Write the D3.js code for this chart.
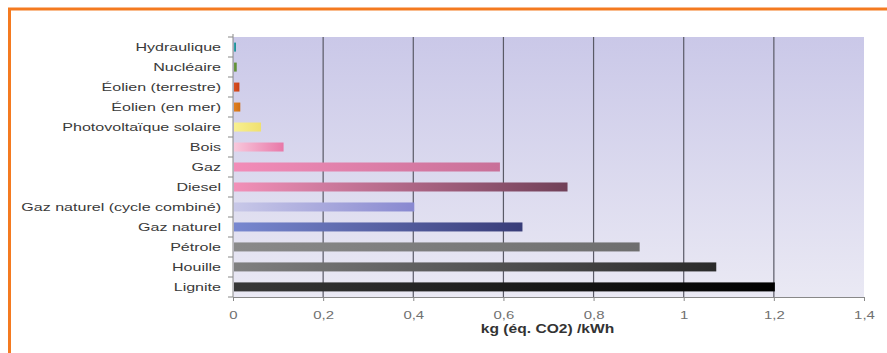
<!DOCTYPE html>
<html><head><meta charset="utf-8">
<script src="https://cdn.jsdelivr.net/npm/d3@7"></script>
<style>
html,body{margin:0;padding:0;background:#fff;}
svg{display:block;font-family:"Liberation Sans",Arial,sans-serif;}
</style></head>
<body><svg id="c" width="887" height="353"></svg>
<script>
const categories = ["Hydraulique","Nucléaire","Éolien (terrestre)","Éolien (en mer)","Photovoltaïque solaire","Bois","Gaz","Diesel","Gaz naturel (cycle combiné)","Gaz naturel ","Pétrole","Houille","Lignite"];
const values = [0.004,0.006,0.012,0.014,0.06,0.11,0.59,0.74,0.40,0.64,0.90,1.07,1.20];
const colorStart = ["#30a8b0","#6a9a40","#d85020","#e08020","#f8f090","#f8c8dc","#f28cb8","#f290b8","#c8c8e8","#7888d0","#8a8a8a","#808080","#383838"];
const colorEnd   = ["#208890","#5a8a30","#c84018","#d07018","#f0e070","#e878a8","#c87098","#704058","#8888d0","#383c78","#6e6e6e","#2a2a2a","#000000"];
const xTicks = [0,0.2,0.4,0.6,0.8,1,1.2,1.4];
const xTickLabels = ["0","0,2","0,4","0,6","0,8","1","1,2","1,4"];
const xTitle = "kg (éq. CO2) /kWh";

const svg = d3.select("#c");
const L = 233, R = 864, T = 37, B = 297;
const x = d3.scaleLinear().domain([0,1.4]).range([L,R]);
const y = d3.scaleBand().domain(categories).range([T,B]).paddingInner(0.55).paddingOuter(0.28);

// frame
svg.append("line").attr("x1",8).attr("x2",887).attr("y1",9).attr("y2",9).attr("stroke","#f47a20").attr("stroke-width",3);
svg.append("line").attr("x1",9.5).attr("x2",9.5).attr("y1",8).attr("y2",353).attr("stroke","#f47a20").attr("stroke-width",3);

const defs = svg.append("defs");
const bg = defs.append("linearGradient").attr("id","bg").attr("x1",0).attr("y1",0).attr("x2",0).attr("y2",1);
bg.append("stop").attr("offset","0%").attr("stop-color","#cac8e8");
bg.append("stop").attr("offset","100%").attr("stop-color","#eae9f4");
svg.append("rect").attr("x",L).attr("y",T).attr("width",R-L).attr("height",B-T).attr("fill","url(#bg)");

// grid
svg.append("g").selectAll("line").data(xTicks.slice(1,-1)).join("line")
  .attr("x1",d=>x(d)).attr("x2",d=>x(d)).attr("y1",T).attr("y2",B)
  .attr("stroke","#5a5a66").attr("stroke-width",1.2);

categories.forEach((c,i)=>{
  const g = defs.append("linearGradient").attr("id","g"+i).attr("x1",0).attr("x2",1).attr("y1",0).attr("y2",0);
  g.append("stop").attr("offset","0%").attr("stop-color",colorStart[i]);
  g.append("stop").attr("offset","100%").attr("stop-color",colorEnd[i]);
});

svg.append("g").selectAll("rect").data(categories).join("rect")
  .attr("x",x(0)+1).attr("y",d=>y(d)+ (y.bandwidth()-9)/2)
  .attr("width",(d,i)=>Math.max(2,x(values[i])-x(0)))
  .attr("height",9)
  .attr("fill",(d,i)=>"url(#g"+i+")");

// x axis
const xa = svg.append("g").attr("transform",`translate(0,${B})`)
  .call(d3.axisBottom(x).tickValues(xTicks).tickFormat((d,i)=>xTickLabels[i]).tickSize(4).tickPadding(10));
xa.select(".domain").attr("stroke","#888");
xa.selectAll(".tick line").attr("stroke","#888");
xa.selectAll("text").attr("fill","#707070").attr("font-size","11.5px").attr("transform","scale(1.3,1)")
  .attr("font-family","Liberation Sans, Arial, sans-serif");

// y axis
const ya = svg.append("g").attr("transform",`translate(${L},0)`);
ya.append("line").attr("x1",0).attr("x2",0).attr("y1",T-3).attr("y2",B).attr("stroke","#888");
ya.selectAll("line.tk").data(d3.range(categories.length+1)).join("line").attr("class","tk")
  .attr("x1",-5).attr("x2",0).attr("y1",d=>T+d*((B-T)/categories.length)).attr("y2",d=>T+d*((B-T)/categories.length)).attr("stroke","#888");
ya.selectAll("text").data(categories).join("text")
  .attr("transform",d=>`translate(-12,${y(d)+y.bandwidth()/2}) scale(1.36,1)`).attr("dy","0.35em")
  .attr("text-anchor","end").attr("font-size","11.8px").attr("fill","#3a3a3a").text(d=>d);

svg.append("text").attr("transform",`translate(${(L+R)/2 - 1},333) scale(1.3,1)`).attr("text-anchor","middle")
  .attr("font-size","12px").attr("font-weight","bold").attr("fill","#333").text(xTitle);
</script></body></html>
